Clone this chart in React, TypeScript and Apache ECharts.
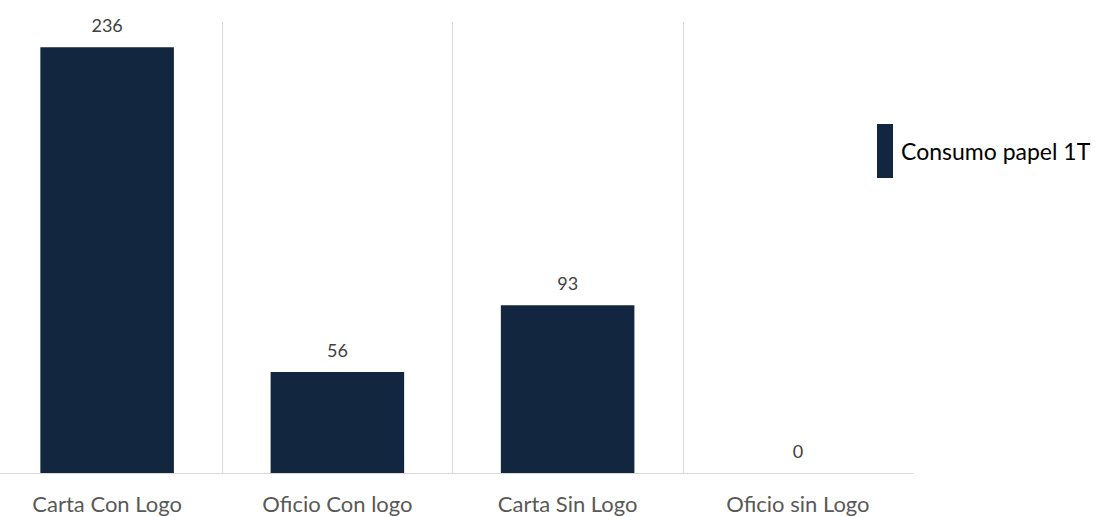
import React, { useEffect, useRef } from "react";
import * as echarts from "echarts";

const categories = ["Carta Con Logo", "Oficio Con logo", "Carta Sin Logo", "Oficio sin Logo"];
const seriesName = "Consumo papel 1T";
const values = [236, 56, 93, 0];

export default function App() {
  const ref = useRef<HTMLDivElement>(null);
  useEffect(() => {
    if (!ref.current) return;
    const chart = echarts.init(ref.current, null, { renderer: "svg" });
    chart.setOption({
      animation: false,
      textStyle: { fontFamily: "Lato, 'Open Sans', sans-serif" },
      grid: { left: 0, right: 182, top: 22, bottom: 44, containLabel: false },
      legend: {
        show: true,
        left: 885,
        top: 124,
        padding: 0,
        orient: "vertical",
        itemWidth: 16,
        itemHeight: 54,
        itemGap: 8,
        icon: "rect",
        textStyle: { fontSize: 23, color: "#000", padding: [0, 0, 0, 3] },
        data: [seriesName],
      },
      xAxis: {
        type: "category",
        data: categories,
        boundaryGap: true,
        axisLine: { show: true, lineStyle: { color: "#d9d9d9", width: 1 } },
        axisTick: { show: false },
        axisLabel: { fontSize: 22, color: "#595959", margin: 19 },
        splitLine: { show: true, showMaxLine: false, showMinLine: false, lineStyle: { color: "#d9d9d9", width: 1 } },
      },
      yAxis: {
        type: "value",
        min: 0,
        max: 250,
        show: false,
        splitLine: { show: false },
      },
      series: [
        {
          name: seriesName,
          type: "bar",
          data: values,
          barWidth: "58%",
          itemStyle: { color: "#13263f" },
          label: {
            show: true,
            position: "top",
            distance: 13,
            fontSize: 18,
            color: "#404040",
          },
        },
      ],
    });
    return () => chart.dispose();
  }, []);
  return <div ref={ref} style={{ width: 1103, height: 517, position: "absolute", left: -8, top: 0, overflow: "hidden" }} />;
}
